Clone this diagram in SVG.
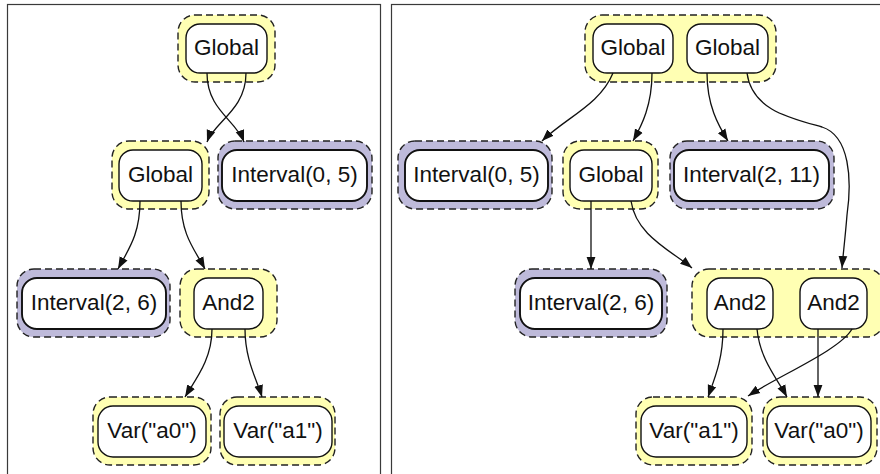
<svg xmlns="http://www.w3.org/2000/svg" width="880" height="474" viewBox="0 0 880 474">
  <style>
    .frame { fill: none; stroke: #3a3a3a; stroke-width: 1.2; }
    .hy { fill: #ffffb3; stroke: #222; stroke-width: 1.4; stroke-dasharray: 7 4; }
    .hp { fill: #bebada; stroke: #222; stroke-width: 1.4; stroke-dasharray: 7 4; }
    .in { fill: #fff; stroke: #111; stroke-width: 1.4; }
    .inp { fill: #fff; stroke: #111; stroke-width: 1.9; }
    text { font-family: "Liberation Sans", Arial, sans-serif; font-size: 22.5px; fill: #111; text-anchor: middle; }
    .edge { fill: none; stroke: #111; stroke-width: 1.3; marker-end: url(#arr); }
  </style>
  <defs>
    <marker id="arr" markerUnits="userSpaceOnUse" markerWidth="13" markerHeight="10" viewBox="0 0 13 10" refX="12" refY="5" orient="auto">
      <path d="M0,0.6 L12,5 L0,9.4 Z" fill="#111"/>
    </marker>
  </defs>

  <rect width="880" height="474" fill="#fff"/>

  <!-- panel frames -->
  <rect class="frame" x="7.5" y="4.5" width="373" height="490"/>
  <rect class="frame" x="391.5" y="4.5" width="500" height="490"/>

  <!-- left tree -->
  <g id="l-global-top">
    <rect class="hy" x="178" y="15" width="97" height="67" rx="17"/>
    <rect class="in" x="186" y="24" width="81" height="49" rx="14"/>
    <text x="226.5" y="55">Global</text>
  </g>
  <g id="l-global-mid">
    <rect class="hy" x="112" y="141" width="97" height="68" rx="17"/>
    <rect class="in" x="119" y="150" width="83" height="51" rx="14"/>
    <text x="160.5" y="182">Global</text>
  </g>
  <g id="l-interval-0-5">
    <rect class="hp" x="218" y="141" width="154" height="68" rx="17"/>
    <rect class="inp" x="222" y="150" width="145" height="51" rx="15"/>
    <text x="294.5" y="182">Interval(0, 5)</text>
  </g>
  <g id="l-interval-2-6">
    <rect class="hp" x="17" y="269" width="153" height="68" rx="17"/>
    <rect class="inp" x="22" y="278" width="144" height="51" rx="15"/>
    <text x="94" y="310">Interval(2, 6)</text>
  </g>
  <g id="l-and2">
    <rect class="hy" x="180" y="269" width="97" height="68" rx="17"/>
    <rect class="in" x="194" y="278" width="69" height="51" rx="14"/>
    <text x="228.5" y="310">And2</text>
  </g>
  <g id="l-var-a0">
    <rect class="hy" x="93" y="397" width="118" height="68" rx="17"/>
    <rect class="in" x="98" y="406" width="108" height="51" rx="15"/>
    <text x="152" y="438">Var("a0")</text>
  </g>
  <g id="l-var-a1">
    <rect class="hy" x="220" y="397" width="115" height="68" rx="17"/>
    <rect class="in" x="224" y="406" width="108" height="51" rx="15"/>
    <text x="278" y="438">Var("a1")</text>
  </g>

  <!-- right tree -->
  <g id="r-global-pair">
    <rect class="hy" x="585" y="15" width="191" height="67" rx="17"/>
    <rect class="in" x="593" y="24" width="80" height="49" rx="14"/>
    <text x="633" y="55">Global</text>
    <rect class="in" x="687" y="24" width="81" height="49" rx="14"/>
    <text x="727.5" y="55">Global</text>
  </g>
  <g id="r-interval-0-5">
    <rect class="hp" x="398" y="141" width="154" height="68" rx="17"/>
    <rect class="inp" x="405" y="150" width="143" height="51" rx="15"/>
    <text x="476.5" y="182">Interval(0, 5)</text>
  </g>
  <g id="r-global-mid">
    <rect class="hy" x="563" y="141" width="95" height="68" rx="17"/>
    <rect class="in" x="570" y="150" width="82" height="51" rx="14"/>
    <text x="611" y="182">Global</text>
  </g>
  <g id="r-interval-2-11">
    <rect class="hp" x="670" y="141" width="164" height="68" rx="17"/>
    <rect class="inp" x="674" y="150" width="155" height="51" rx="15"/>
    <text x="751.5" y="182">Interval(2, 11)</text>
  </g>
  <g id="r-interval-2-6">
    <rect class="hp" x="515" y="269" width="152" height="68" rx="17"/>
    <rect class="inp" x="520" y="278" width="142" height="51" rx="15"/>
    <text x="591" y="310">Interval(2, 6)</text>
  </g>
  <g id="r-and2-pair">
    <rect class="hy" x="692" y="269" width="192" height="68" rx="17"/>
    <rect class="in" x="707" y="278" width="66" height="51" rx="14"/>
    <text x="740" y="310">And2</text>
    <rect class="in" x="800" y="278" width="67" height="51" rx="14"/>
    <text x="833.5" y="310">And2</text>
  </g>
  <g id="r-var-a1">
    <rect class="hy" x="636" y="397" width="116" height="68" rx="17"/>
    <rect class="in" x="641" y="406" width="106" height="51" rx="15"/>
    <text x="694" y="438">Var("a1")</text>
  </g>
  <g id="r-var-a0">
    <rect class="hy" x="763" y="397" width="114" height="68" rx="17"/>
    <rect class="in" x="767" y="406" width="104" height="51" rx="15"/>
    <text x="819" y="438">Var("a0")</text>
  </g>

  <!-- connectors -->
  <g id="edges">
    <path class="edge" d="M207,73 C207,110 236,120 244,142"/>
    <path class="edge" d="M246,73 C246,110 214,122 207,142"/>
    <path class="edge" d="M140,201 C140,235 128,250 118,269"/>
    <path class="edge" d="M181,201 C181,235 195,250 205,269"/>
    <path class="edge" d="M212,329 C212,360 195,380 185,397"/>
    <path class="edge" d="M245,329 C245,360 257,380 262,397"/>

    <path class="edge" d="M613,73 C600,105 565,118 542,141"/>
    <path class="edge" d="M652,73 C652,105 642,125 633,141"/>
    <path class="edge" d="M707,73 C707,105 718,125 728,141"/>
    <path class="edge" d="M747,73 C752,110 790,118 822,127 C850,136 852,180 847,215 C845,240 843,255 842,268"/>
    <path class="edge" d="M591,201 L591,269"/>
    <path class="edge" d="M631,201 C636,235 670,250 692,268"/>
    <path class="edge" d="M723,329 C723,360 714,380 708,397"/>
    <path class="edge" d="M757,329 C760,360 778,380 787,397"/>
    <path class="edge" d="M818,329 L818,397"/>
    <path class="edge" d="M852,329 C840,350 780,375 748,396"/>
  </g>
</svg>
